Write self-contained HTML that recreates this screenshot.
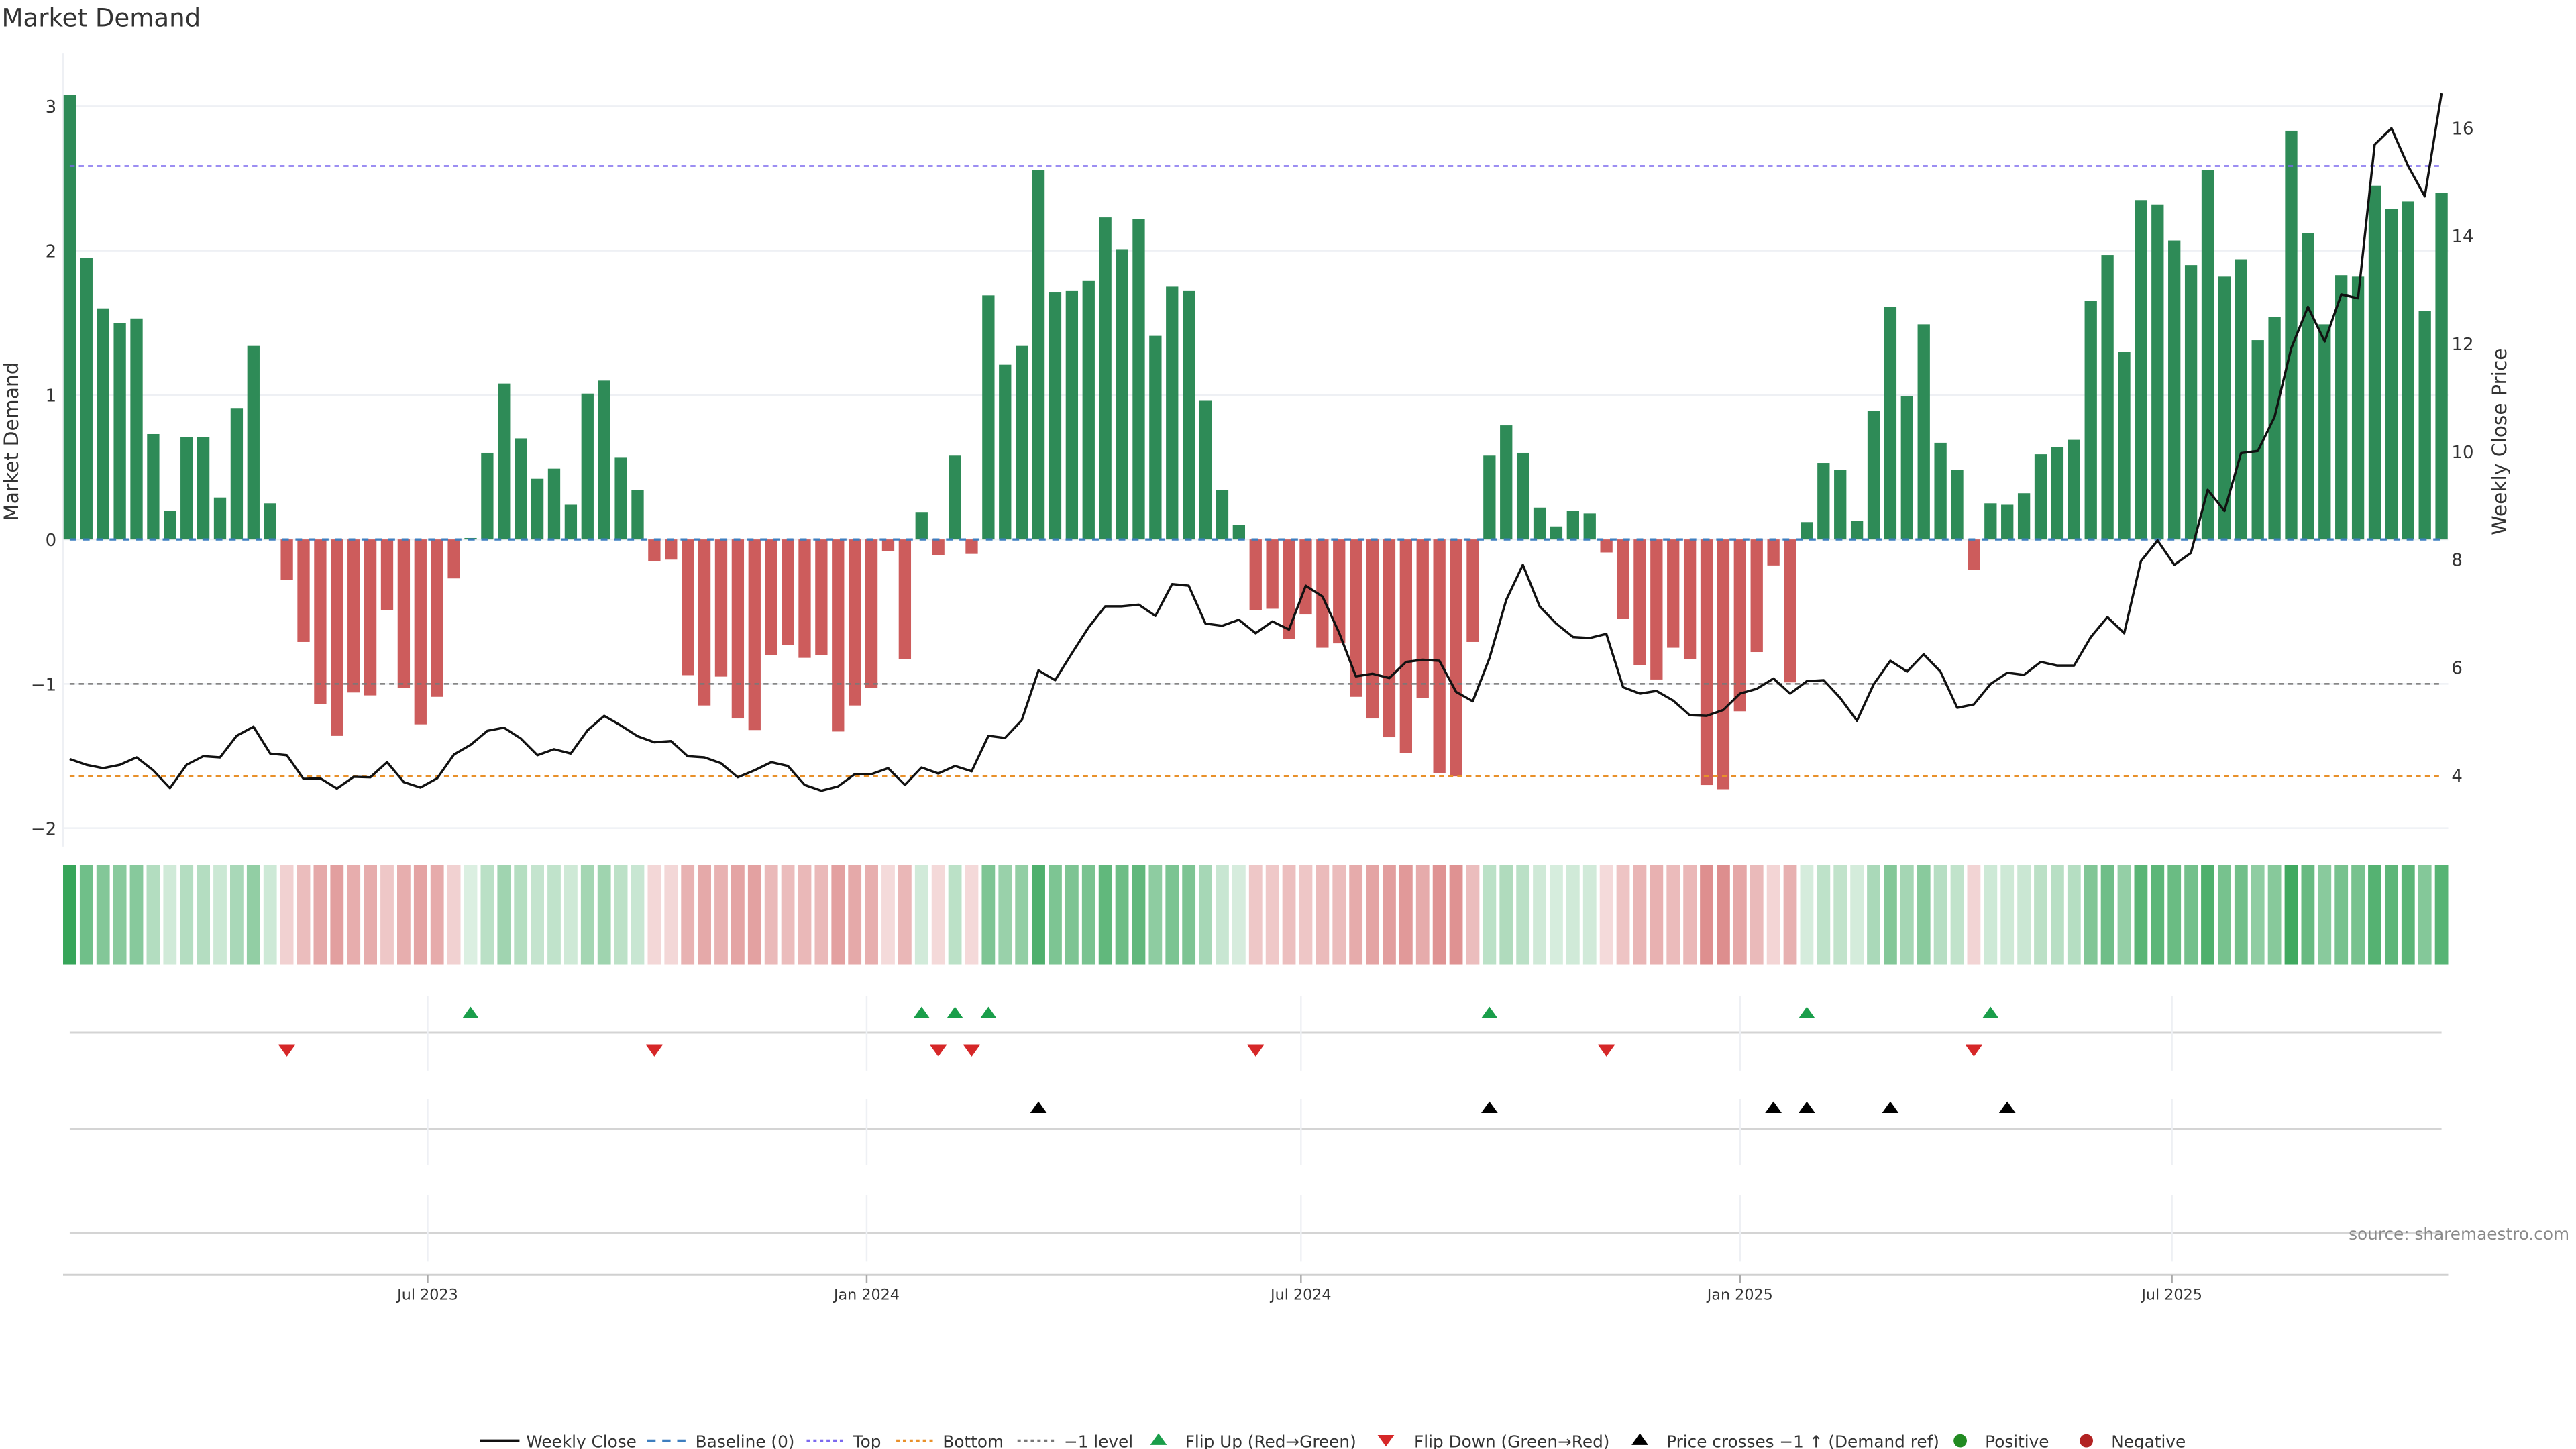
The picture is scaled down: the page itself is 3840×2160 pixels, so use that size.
<!DOCTYPE html>
<html><head><meta charset="utf-8"><title>Market Demand</title>
<style>html,body{margin:0;padding:0;background:#fff}svg{display:block}text{font-family:"DejaVu Sans","Liberation Sans",sans-serif;fill:#333}</style>
</head><body>
<svg id="chart" xmlns="http://www.w3.org/2000/svg" width="3840" height="2160" viewBox="0 0 1552 873" preserveAspectRatio="none">
<text x="1" y="16" font-size="15">Market Demand</text>
<text transform="translate(11,266) rotate(-90)" font-size="12" text-anchor="middle">Market Demand</text>
<text transform="translate(1510,266) rotate(-90)" font-size="12" text-anchor="middle">Weekly Close Price</text>
<line x1="38" y1="32" x2="38" y2="510" stroke="#eef0f4" stroke-width="1"/>
<g id="grid"></g><g id="bars"></g><g id="levels"></g><g id="line"></g><g id="heat"></g><g id="markers"></g><g id="xaxis"></g>
<text x="1548" y="747" font-size="10" text-anchor="end" style="fill:#8a8a8a">source: sharemaestro.com</text>
<g id="legend" font-size="10"></g>
</svg>
<script>
const demand = [3.08,1.95,1.60,1.50,1.53,0.73,0.20,0.71,0.71,0.29,0.91,1.34,0.25,-0.28,-0.71,-1.14,-1.36,-1.06,-1.08,-0.49,-1.03,-1.28,-1.09,-0.27,0.01,0.60,1.08,0.70,0.42,0.49,0.24,1.01,1.10,0.57,0.34,-0.15,-0.14,
-0.94,-1.15,-0.95,-1.24,-1.32,-0.80,-0.73,-0.82,-0.80,-1.33,-1.15,-1.03,-0.08,-0.83,0.19,-0.11,0.58,-0.10,1.69,1.21,1.34,2.56,1.71,1.72,1.79,2.23,2.01,2.22,1.41,1.75,1.72,0.96,0.34,0.10,-0.49,-0.48,-0.69,-0.52,-0.75,
-0.72,-1.09,-1.24,-1.37,-1.48,-1.10,-1.62,-1.64,-0.71,0.58,0.79,0.60,0.22,0.09,0.20,0.18,-0.09,-0.55,-0.87,-0.97,-0.75,-0.83,-1.70,-1.73,-1.19,-0.78,-0.18,-0.99,0.12,0.53,0.48,0.13,0.89,1.61,0.99,
1.49,0.67,0.48,-0.21,0.25,0.24,0.32,0.59,0.64,0.69,1.65,1.97,1.30,2.35,2.32,2.07,1.90,2.56,1.82,1.94,1.38,1.54,2.83,2.12,1.49,1.83,1.82,2.45,2.29,2.34,1.58,2.40];
const price = [4.30,4.19,4.13,4.19,4.33,4.09,3.76,4.19,4.35,4.33,4.73,4.90,4.40,4.37,3.93,3.94,3.75,3.97,3.96,4.24,3.87,3.77,3.94,4.38,4.56,4.82,4.88,4.68,4.37,4.48,4.40,4.83,5.10,4.92,4.72,4.61,4.63,4.35,
4.33,4.22,3.96,4.09,4.24,4.17,3.82,3.71,3.79,4.02,4.02,4.13,3.82,4.14,4.03,4.17,4.07,4.73,4.69,5.02,5.94,5.76,6.26,6.74,7.13,7.13,7.16,6.95,7.54,7.51,6.81,6.77,6.88,6.63,6.85,6.70,7.51,7.31,
6.64,5.83,5.88,5.80,6.10,6.14,6.12,5.54,5.37,6.17,7.25,7.90,7.13,6.81,6.56,6.54,6.62,5.63,5.51,5.56,5.38,5.11,5.10,5.21,5.51,5.60,5.79,5.51,5.74,5.76,5.43,5.01,5.68,6.12,5.92,
6.24,5.92,5.25,5.31,5.69,5.90,5.86,6.10,6.03,6.03,6.56,6.93,6.63,7.97,8.35,7.90,8.12,9.29,8.90,9.97,10.01,10.64,11.91,12.68,12.04,12.91,12.84,15.69,15.99,15.29,14.73,16.64];
const leftTicks = [-2,-1,0,1,2,3];
const rightTicks = [4,6,8,10,12,14,16];
const topLevel = 2.586;
const bottomLevel = -1.64;
const minusOneLevel = -1;
const startDate = "2023-02-01";
const xTickDates = ["2023-07-01","2024-01-01","2024-07-01","2025-01-01","2025-07-01"];
const xTickLabels = ["Jul 2023","Jan 2024","Jul 2024","Jan 2025","Jul 2025"];

const NS="http://www.w3.org/2000/svg";
const N=demand.length, X0=42, X1=1471, STEP=(X1-X0)/(N-1);
const xi=i=>X0+i*STEP;
const xd=d=>X0+((new Date(d)-new Date(startDate))/864e5/7)*STEP;
const yL=v=>325-v*87;
const yR=p=>467-(p-4)*32.5;
function mk(tag,attrs,parent){const e=document.createElementNS(NS,tag);for(const k in attrs)e.setAttribute(k,attrs[k]);document.getElementById(parent).appendChild(e);return e;}

leftTicks.forEach(t=>{
  const g=mk('line',{x1:38,x2:1475,y1:yL(t),y2:yL(t),stroke:'#eef0f4','stroke-width':1},'grid');
  
  
  const tx=mk('text',{x:34,y:yL(t)+4,'font-size':10.5,'text-anchor':'end'},'grid');tx.textContent=t==0?'0':(t<0?'\u2212'+(-t):t);
  
  
});
rightTicks.forEach(t=>{
  const tx=mk('text',{x:1477,y:yR(t)+4,'font-size':10.5},'grid');tx.textContent=t;
  
  
});
demand.forEach((v,i)=>{
  const y=Math.min(yL(v),325),h=Math.abs(yL(v)-325);
  const r=mk('rect',{x:xi(i)-3.7,y:y,width:7.4,height:Math.max(h,0.3),fill:v>=0?'#2e8b57':'#cd5c5c'},'bars');
  
  
});
[[0,'#3d7ebf','4,4',1.3,'baseline-line'],[topLevel,'#7b68ee','3,2.5',1,'top-level-line'],[minusOneLevel,'#777','3,2.5',1,'minus-one-level-line'],[bottomLevel,'#e8902a','3,2.5',1.2,'bottom-level-line']].forEach(a=>{
  const l=mk('line',{x1:X0,x2:X1,y1:yL(a[0]),y2:yL(a[0]),stroke:a[1],'stroke-dasharray':a[2],'stroke-width':a[3]},'levels');
  
  
});
const pl=mk('polyline',{points:price.map((p,i)=>xi(i).toFixed(1)+','+yR(p).toFixed(1)).join(' '),fill:'none',stroke:'#111','stroke-width':1.4,'stroke-linejoin':'round'},'line');


demand.forEach((v,i)=>{
  let c;
  if(v>=0){const a=Math.min(0.95,0.17+0.26*v);c=`rgb(${Math.round(255-a*211)},${Math.round(255-a*95)},${Math.round(255-a*175)})`;}
  else{const a=Math.min(0.7,0.18+0.25*(-v));c=`rgb(${Math.round(255-a*55)},${Math.round(255-a*185)},${Math.round(255-a*185)})`;}
  const r=mk('rect',{x:xi(i)-4,y:521,width:8,height:60,fill:c},'heat');
  
  
});
[622,680,743].forEach(y=>{const l=mk('line',{x1:X0,x2:X1,y1:y,y2:y,stroke:'#d4d4d4','stroke-width':1.2},'markers');
  
  });
xTickDates.forEach(d=>{[[600,645],[662,702],[720,760]].forEach(s=>{const l=mk('line',{x1:xd(d),x2:xd(d),y1:s[0],y2:s[1],stroke:'#eef0f4','stroke-width':1},'markers');
  
  });});
const tri=(x,y,up,col,name)=>{const p=up?`${x-5},${y+3.5} ${x+5},${y+3.5} ${x},${y-3.5}`:`${x-5},${y-3.5} ${x+5},${y-3.5} ${x},${y+3.5}`;
  const t=mk('polygon',{points:p,fill:col},'markers');
  
  };
const lvlPrice=4+(yL(bottomLevel)-yL(minusOneLevel))/32.5;
for(let i=1;i<N;i++){
  if(demand[i-1]<0&&demand[i]>=0)tri(xi(i),610,true,'#1a9e4a','flip-up-marker');
  if(demand[i-1]>=0&&demand[i]<0)tri(xi(i),633,false,'#d62728','flip-down-marker');
  if(price[i-1]<lvlPrice&&price[i]>=lvlPrice)tri(xi(i),667,true,'#000','price-cross-marker');
}
const ax=mk('line',{x1:38,x2:1475,y1:768,y2:768,stroke:'#d0d0d0','stroke-width':1.2},'xaxis');


xTickDates.forEach((d,k)=>{
  const t=mk('line',{x1:xd(d),x2:xd(d),y1:768,y2:773,stroke:'#aaa'},'xaxis');
  
  
  const tx=mk('text',{x:xd(d),y:783,'font-size':9,'text-anchor':'middle'},'xaxis');tx.textContent=xTickLabels[k];
  
  
});
const LY=868;
function lt(x,s,name){const t=mk('text',{x:x,y:LY+4,'font-size':10},'legend');t.textContent=s;
  
  }
function ll(x1,x2,col,dash,w){const l=mk('line',{x1:x1,x2:x2,y1:LY,y2:LY,stroke:col,'stroke-width':w,'stroke-dasharray':dash},'legend');
  
  }
ll(289,313,'#111','none',1.6);lt(317,'Weekly Close','legend-weekly-close');
ll(390,413,'#3d7ebf','5,4',1.5);lt(419,'Baseline (0)','legend-baseline');
ll(486,509,'#7b68ee','2,2',1.5);lt(514,'Top','legend-top');
ll(540,563,'#e8902a','2,2',1.5);lt(568,'Bottom','legend-bottom');
ll(613,636,'#777','2,2',1.5);lt(641,'\u22121 level','legend-minus-one');
tri(698,LY-1,true,'#1a9e4a','legend-flip-up');lt(714,'Flip Up (Red\u2192Green)','legend-flip-up-label');
tri(835,LY,false,'#d62728','legend-flip-down');lt(852,'Flip Down (Green\u2192Red)','legend-flip-down-label');
tri(988,LY-1,true,'#000','legend-price-cross');lt(1004,'Price crosses \u22121 \u2191 (Demand ref)','legend-price-cross-label');
const c1=mk('circle',{cx:1181,cy:LY,r:4,fill:'#228b22'},'legend');


lt(1196,'Positive','legend-positive');
const c2=mk('circle',{cx:1257,cy:LY,r:4,fill:'#b22222'},'legend');


lt(1272,'Negative','legend-negative');
</script>
</body></html>
